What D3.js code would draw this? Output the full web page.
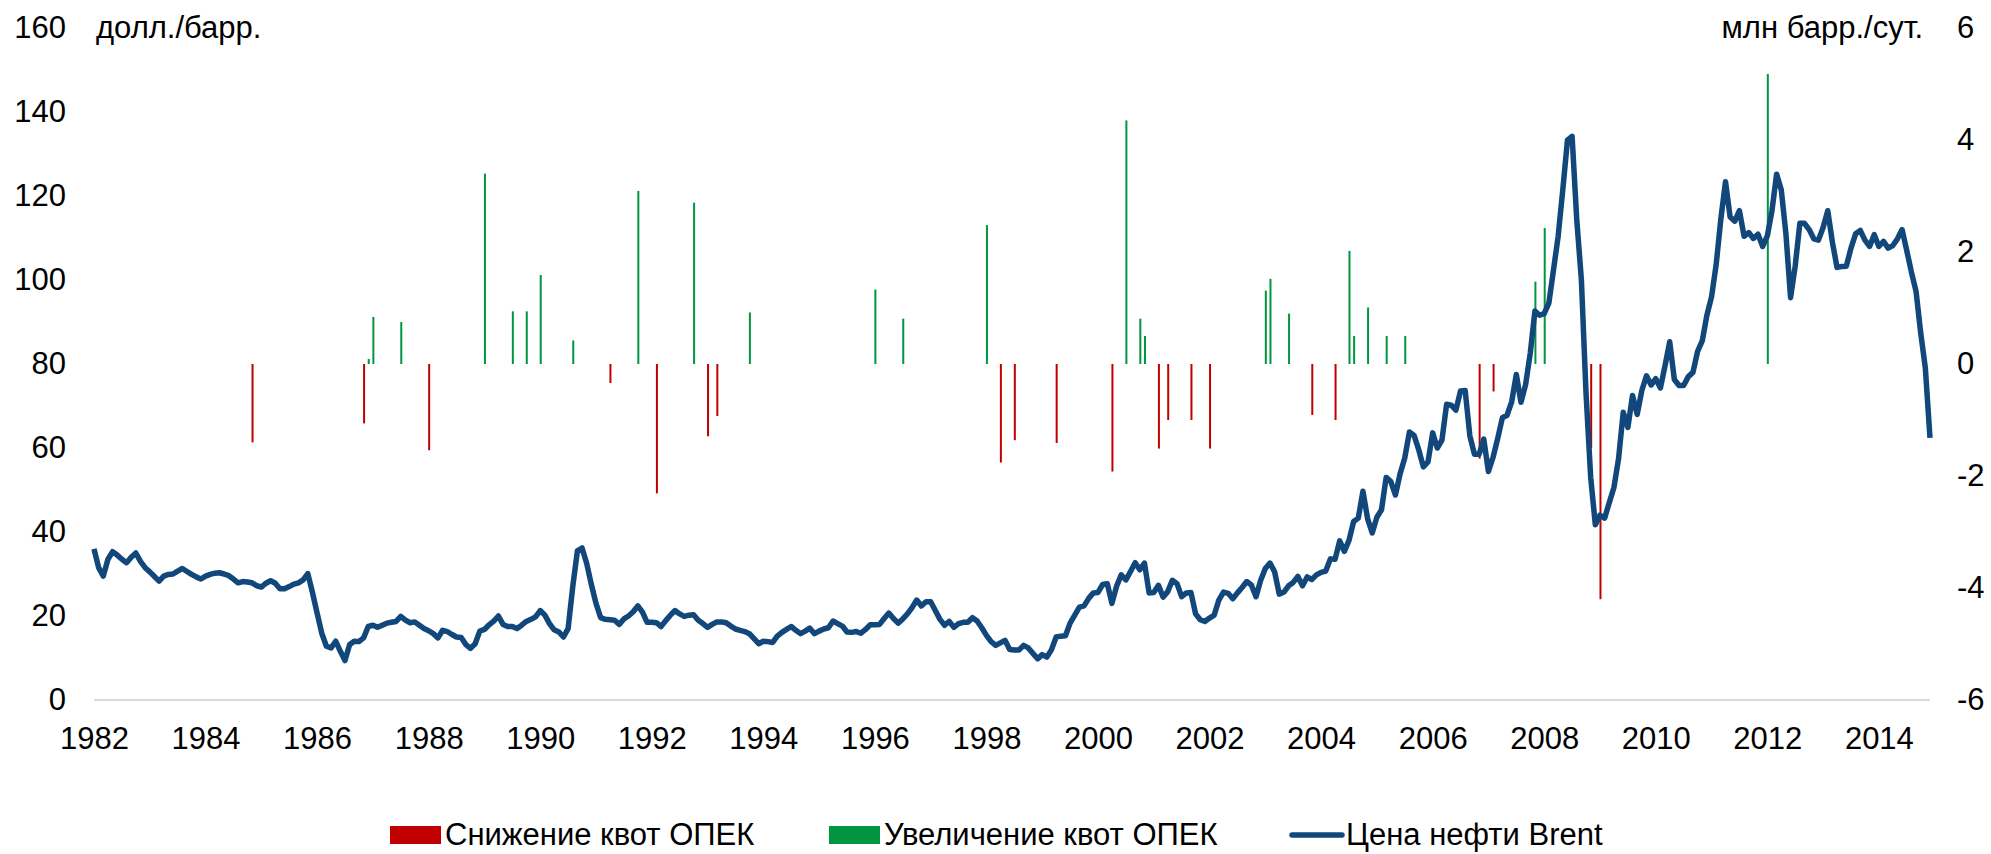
<!DOCTYPE html>
<html>
<head>
<meta charset="utf-8">
<script src="https://cdn.jsdelivr.net/npm/d3@7"></script>
<style>
  body { margin: 0; background: #fff; }
  svg { display: block; font-family: "Liberation Sans", Arial, sans-serif; }
</style>
</head>
<body>
<div id="chart"></div>
<script>
// monthly Brent price, $/bbl, from Jan 1982 to Dec 2014
var startYear = 1982;
var brentPrice = [
  36.0, 31.5, 29.5, 33.5, 35.3, 34.5, 33.5, 32.7, 34.0, 35.0, 33.0, 31.5, // 1982
  30.5, 29.4, 28.3, 29.5, 29.9, 30.0, 30.7, 31.3, 30.6, 29.9, 29.3, 28.8, // 1983
  29.5, 29.9, 30.2, 30.3, 30.0, 29.6, 28.8, 27.9, 28.2, 28.1, 27.9, 27.2, // 1984
  26.9, 27.8, 28.4, 27.8, 26.5, 26.5, 27.0, 27.6, 27.9, 28.6, 30.1, 25.6, // 1985
  20.7, 15.9, 12.8, 12.4, 14.0, 11.6, 9.4, 13.2, 14.0, 13.9, 14.8, 17.5,  // 1986
  17.8, 17.3, 17.8, 18.3, 18.5, 18.7, 19.9, 19.0, 18.4, 18.6, 17.8, 17.0, // 1987
  16.5, 15.8, 14.8, 16.6, 16.3, 15.6, 15.0, 14.9, 13.2, 12.3, 13.4, 16.4, // 1988
  16.8, 17.9, 18.8, 20.0, 18.0, 17.5, 17.5, 17.0, 17.8, 18.7, 19.2, 19.8, // 1989
  21.3, 20.2, 18.2, 16.7, 16.2, 15.0, 17.0, 27.0, 35.5, 36.2, 32.5, 27.5, // 1990
  23.0, 19.6, 19.2, 19.1, 19.0, 18.0, 19.3, 20.0, 21.0, 22.4, 20.9, 18.5, // 1991
  18.5, 18.4, 17.5, 18.9, 20.2, 21.3, 20.5, 19.9, 20.2, 20.3, 19.0, 18.2, // 1992
  17.3, 18.0, 18.6, 18.6, 18.4, 17.6, 16.9, 16.6, 16.3, 15.8, 14.6, 13.4, // 1993
  14.0, 13.9, 13.7, 15.2, 16.1, 16.8, 17.5, 16.6, 15.8, 16.4, 17.1, 15.8, // 1994
  16.4, 16.9, 17.2, 18.8, 18.2, 17.6, 16.2, 16.1, 16.3, 15.9, 16.8, 17.9, // 1995
  17.9, 18.0, 19.4, 20.7, 19.4, 18.3, 19.3, 20.5, 22.0, 23.8, 22.4, 23.4, // 1996
  23.4, 21.3, 19.2, 17.8, 18.7, 17.3, 18.2, 18.5, 18.5, 19.6, 18.8, 17.2, // 1997
  15.4, 13.9, 13.0, 13.6, 14.2, 12.0, 11.9, 11.9, 13.0, 12.4, 11.1, 9.8,  // 1998
  10.8, 10.2, 12.0, 15.0, 15.2, 15.3, 18.3, 20.2, 22.1, 22.4, 24.2, 25.5, // 1999
  25.6, 27.5, 27.7, 23.0, 27.1, 29.8, 28.6, 30.6, 32.7, 31.0, 32.6, 25.5, // 2000
  25.6, 27.3, 24.5, 25.8, 28.5, 27.7, 24.6, 25.5, 25.6, 20.5, 19.1, 18.7, // 2001
  19.5, 20.2, 23.8, 25.7, 25.4, 24.1, 25.5, 26.8, 28.2, 27.4, 24.6, 28.5, // 2002
  31.3, 32.6, 30.5, 25.2, 25.7, 27.2, 28.0, 29.4, 27.2, 29.3, 28.7, 29.8, // 2003
  30.4, 30.7, 33.6, 33.5, 37.9, 35.4, 38.0, 42.5, 43.3, 49.7, 43.2, 39.8, // 2004
  43.5, 45.3, 53.0, 52.0, 48.8, 53.9, 57.6, 63.8, 63.0, 59.6, 55.5, 56.7, // 2005
  63.6, 60.0, 61.9, 70.4, 70.2, 69.0, 73.6, 73.7, 62.9, 58.5, 58.5, 62.1, // 2006
  54.4, 57.8, 62.3, 67.2, 67.8, 71.0, 77.5, 70.9, 75.1, 82.6, 92.6, 91.6, // 2007
  92.0, 94.5, 102.4, 110.4, 121.5, 133.3, 134.2, 114.4, 100.0, 73.0, 53.0, 41.7, // 2008
  44.0, 43.3, 47.0, 50.6, 57.5, 68.5, 64.9, 72.5, 68.0, 73.7, 77.2, 75.0, // 2009
  76.5, 74.3, 79.6, 85.3, 76.3, 74.9, 74.9, 77.0, 78.0, 83.0, 85.5, 91.6, // 2010
  96.0, 103.7, 114.5, 123.4, 115.0, 114.0, 116.5, 110.4, 111.3, 109.9, 110.9, 108.0, // 2011
  110.5, 116.5, 125.2, 121.5, 111.0, 95.8, 103.3, 113.5, 113.5, 112.0, 109.8, 109.5, // 2012
  112.5, 116.5, 109.0, 103.0, 103.2, 103.3, 107.6, 111.0, 111.8, 109.5, 108.0, 110.8, // 2013
  108.0, 109.2, 107.6, 108.2, 109.8, 112.0, 107.0, 101.9, 97.3, 87.4, 79.0, 62.4  // 2014
];

// OPEC quota changes, mln bbl/day (month when the change took effect)
var quotaMonths = [
  "1984-11", "1986-11", "1986-12", "1987-01", "1987-07", "1988-01", "1989-01", "1989-07",
  "1989-10", "1990-01", "1990-08", "1991-04", "1991-10", "1992-02", "1992-10", "1993-01",
  "1993-03", "1993-10", "1996-01", "1996-07", "1998-01", "1998-04", "1998-07", "1999-04",
  "2000-04", "2000-07", "2000-10", "2000-11", "2001-02", "2001-04", "2001-09", "2002-01",
  "2003-01", "2003-02", "2003-06", "2003-11", "2004-04", "2004-07", "2004-08", "2004-11",
  "2005-03", "2005-07", "2006-11", "2007-02", "2007-11", "2008-01", "2008-11", "2009-01",
  "2012-01"
];
var quotaChange = [
  -1.4, -1.06, 0.09, 0.84, 0.75, -1.54, 3.4, 0.94,
  0.94, 1.59, 0.42, -0.34, 3.09, -2.31, 2.88, -1.29,
  -0.93, 0.92, 1.33, 0.81, 2.48, -1.76, -1.36, -1.41,
  -1.92, 4.35, 0.81, 0.5, -1.51, -1.0, -1.0, -1.51,
  1.31, 1.52, 0.9, -0.91, -1.0, 2.02, 0.5, 1.01,
  0.5, 0.5, -1.69, -0.49, 1.47, 2.43, -1.5, -4.2,
  5.18
];

var leftTicks = [0, 20, 40, 60, 80, 100, 120, 140, 160];
var rightTicks = [-6, -4, -2, 0, 2, 4, 6];
var yearLabels = [1982, 1984, 1986, 1988, 1990, 1992, 1994, 1996, 1998, 2000, 2002, 2004, 2006, 2008, 2010, 2012, 2014];

var leftUnit = "долл./барр.";
var rightUnit = "млн барр./сут.";
var legendNames = ["Снижение квот ОПЕК", "Увеличение квот ОПЕК", "Цена нефти Brent"];

var colorDown = "#c00000";
var colorUp = "#00953f";
var colorLine = "#11477a";

var width = 1991, height = 854;
var plot = { left: 94, right: 1930, top: 28, bottom: 700 };

var svg = d3.select("#chart").append("svg")
  .attr("width", width)
  .attr("height", height);

function monthIndex(s) {
  var p = s.split("-");
  return (+p[0] - startYear) * 12 + (+p[1] - 1);
}

var x = d3.scaleLinear()
  .domain([0, brentPrice.length - 1])
  .range([plot.left, plot.right]);

var yLeft = d3.scaleLinear().domain([0, 160]).range([plot.bottom, plot.top]);
var yRight = d3.scaleLinear().domain([-6, 6]).range([plot.bottom, plot.top]);

// baseline
svg.append("line")
  .attr("x1", plot.left).attr("x2", plot.right)
  .attr("y1", plot.bottom).attr("y2", plot.bottom)
  .attr("stroke", "#d9d9d9")
  .attr("stroke-width", 2);

// left axis
var gl = svg.append("g")
  .attr("transform", "translate(66,0)")
  .call(d3.axisLeft(yLeft).tickValues(leftTicks).tickSize(0).tickPadding(0));
gl.select(".domain").remove();

// right axis
var gr = svg.append("g")
  .attr("transform", "translate(1957,0)")
  .call(d3.axisRight(yRight).tickValues(rightTicks).tickSize(0).tickPadding(0)
    .tickFormat(function (d) { return String(d); }));
gr.select(".domain").remove();

// x axis
var gx = svg.append("g")
  .attr("transform", "translate(0," + plot.bottom + ")")
  .call(d3.axisBottom(x)
    .tickValues(yearLabels.map(function (y) { return (y - startYear) * 12; }))
    .tickSize(0).tickPadding(27)
    .tickFormat(function (d) { return startYear + d / 12; }));
gx.select(".domain").remove();

svg.selectAll(".tick text")
  .attr("font-family", "Liberation Sans, Arial, sans-serif")
  .attr("font-size", 31)
  .attr("fill", "#000");

// unit labels
svg.append("text")
  .attr("x", 96).attr("y", plot.top)
  .attr("dy", "0.32em")
  .attr("font-size", 31)
  .text(leftUnit);

svg.append("text")
  .attr("x", 1923).attr("y", plot.top)
  .attr("dy", "0.32em")
  .attr("text-anchor", "end")
  .attr("font-size", 31)
  .text(rightUnit);

// quota bars
var quotas = quotaMonths.map(function (m, k) {
  return { i: monthIndex(m), v: quotaChange[k] };
});

svg.append("g").selectAll("rect")
  .data(quotas)
  .enter()
  .append("rect")
  .attr("x", function (d) { return x(d.i) - 0.5; })
  .attr("width", 2)
  .attr("y", function (d) { return yRight(Math.max(0, d.v)); })
  .attr("height", function (d) { return Math.abs(yRight(d.v) - yRight(0)); })
  .attr("fill", function (d) { return d.v < 0 ? colorDown : colorUp; });

// brent line
var line = d3.line()
  .x(function (d, i) { return x(i); })
  .y(function (d) { return yLeft(d); });

svg.append("path")
  .datum(brentPrice)
  .attr("d", line)
  .attr("fill", "none")
  .attr("stroke", colorLine)
  .attr("stroke-width", 5.5)
  .attr("stroke-linejoin", "round");

// legend
var legend = svg.append("g").attr("font-size", 31);
var legendX = [390, 829, 1292];
var legendColors = [colorDown, colorUp, colorLine];

legendNames.forEach(function (name, k) {
  var g = legend.append("g").attr("transform", "translate(" + legendX[k] + ",835)");
  if (k < 2) {
    g.append("rect")
      .attr("x", 0).attr("y", -9)
      .attr("width", 51).attr("height", 18)
      .attr("fill", legendColors[k]);
  } else {
    g.append("line")
      .attr("x1", 0).attr("x2", 50)
      .attr("y1", 0).attr("y2", 0)
      .attr("stroke", legendColors[k])
      .attr("stroke-width", 5.5)
      .attr("stroke-linecap", "round");
  }
  g.append("text")
    .attr("x", k < 2 ? 55 : 54)
    .attr("dy", "0.33em")
    .text(name);
});
</script>
</body>
</html>
